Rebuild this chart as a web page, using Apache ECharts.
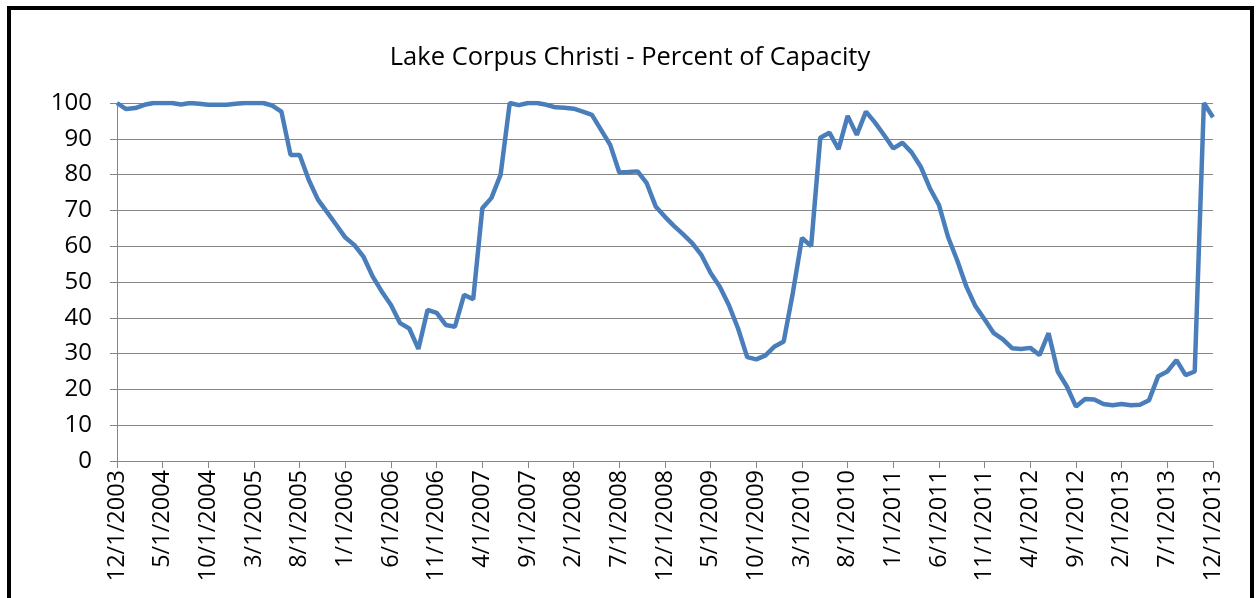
<!DOCTYPE html>
<html>
<head>
<meta charset="utf-8">
<script src="https://cdn.jsdelivr.net/npm/echarts@6/dist/echarts.min.js"></script>
<style>
  html, body { margin: 0; padding: 0; background: #fff; }
  #chart { width: 1260px; height: 598px; }
</style>
</head>
<body>
<div id="chart"></div>
<script>
// monthly readings, 12/1/2003 .. 12/1/2013
const startYear = 2003
const startMonth = 12
const monthCount = 121

const capacity = [
  100, 98.3, 98.6, 99.5, 100, 100, 100, 99.6, 100, 99.8,
  99.5, 99.5, 99.5, 99.8, 100, 100, 100, 99.3, 97.6, 85.5,
  85.5, 78.5, 73, 69.5, 66, 62.4, 60.3, 57, 51.5, 47.3,
  43.6, 38.5, 37, 31.3, 42.2, 41.4, 38, 37.5, 46.4, 45.2,
  70.6, 73.5, 80, 100, 99.4, 100, 100, 99.5, 98.8, 98.7,
  98.4, 97.6, 96.7, 92.5, 88.3, 80.6, 80.7, 80.9, 77.6, 71,
  68.2, 65.6, 63.3, 60.8, 57.5, 52.5, 48.7, 43.5, 37, 29,
  28.4, 29.5, 32, 33.4, 47, 62.3, 60, 90.3, 91.7, 87.1,
  96.4, 91.1, 97.6, 94.5, 91, 87.3, 88.9, 86.2, 82.2, 76.2,
  71.5, 62.5, 56, 48.7, 43.2, 39.5, 35.7, 34, 31.5, 31.3,
  31.6, 29.6, 35.7, 25, 20.8, 15.2, 17.3, 17.2, 15.9, 15.6,
  15.9, 15.6, 15.7, 17, 23.7, 25, 28.2, 24, 25, 100,
  96
]

const yTicks = [0, 10, 20, 30, 40, 50, 60, 70, 80, 90, 100]

// category labels m/1/yyyy
const months = []
for (let i = 0; i < monthCount; i++) {
  const m0 = startMonth - 1 + i
  const y = startYear + Math.floor(m0 / 12)
  const m = (m0 % 12) + 1
  months.push(m + '/1/' + y)
}

const font = 'Open Sans, Noto Sans, sans-serif'
const gridGray = '#868686'

const myChart = echarts.init(document.getElementById('chart'))
const option = {
  animation: false,
  backgroundColor: '#fff',
  title: {
    text: 'Lake Corpus Christi - Percent of Capacity',
    left: 'center',
    top: 40,
    textStyle: {
      fontFamily: font,
      fontSize: 25.5,
      fontWeight: 'normal',
      color: '#000',
    },
  },
  graphic: [
    {
      type: 'rect',
      shape: { x: 9, y: 8, width: 1243, height: 700 },
      style: { fill: 'none', stroke: '#000', lineWidth: 4 },
      silent: true,
    },
  ],
  grid: {
    left: 117,
    right: 47,
    top: 103,
    bottom: 137,
    outerBoundsMode: 'none',
  },
  xAxis: {
    type: 'category',
    data: months,
    boundaryGap: false,
    axisLine: { lineStyle: { color: gridGray, width: 1 } },
    axisTick: { interval: 4, length: 7, lineStyle: { color: gridGray } },
    axisLabel: {
      interval: 4,
      rotate: 90,
      margin: 9,
      fontFamily: font,
      fontSize: 23.5,
      color: '#000',
    },
    splitLine: { show: false },
  },
  yAxis: {
    type: 'value',
    min: yTicks[0],
    max: yTicks[yTicks.length - 1],
    interval: 10,
    axisLine: { show: true, lineStyle: { color: gridGray, width: 1 } },
    axisTick: { show: true, length: 7, lineStyle: { color: gridGray } },
    axisLabel: {
      margin: 25,
      fontFamily: font,
      fontSize: 24,
      color: '#000',
    },
    splitLine: { lineStyle: { color: gridGray, width: 1 } },
  },
  series: [
    {
      name: 'Percent of Capacity',
      type: 'line',
      data: capacity,
      showSymbol: false,
      lineStyle: { color: '#4a7ebb', width: 4.5 },
      itemStyle: { color: '#4a7ebb' },
    },
  ],
}
myChart.setOption(option)
</script>
</body>
</html>
